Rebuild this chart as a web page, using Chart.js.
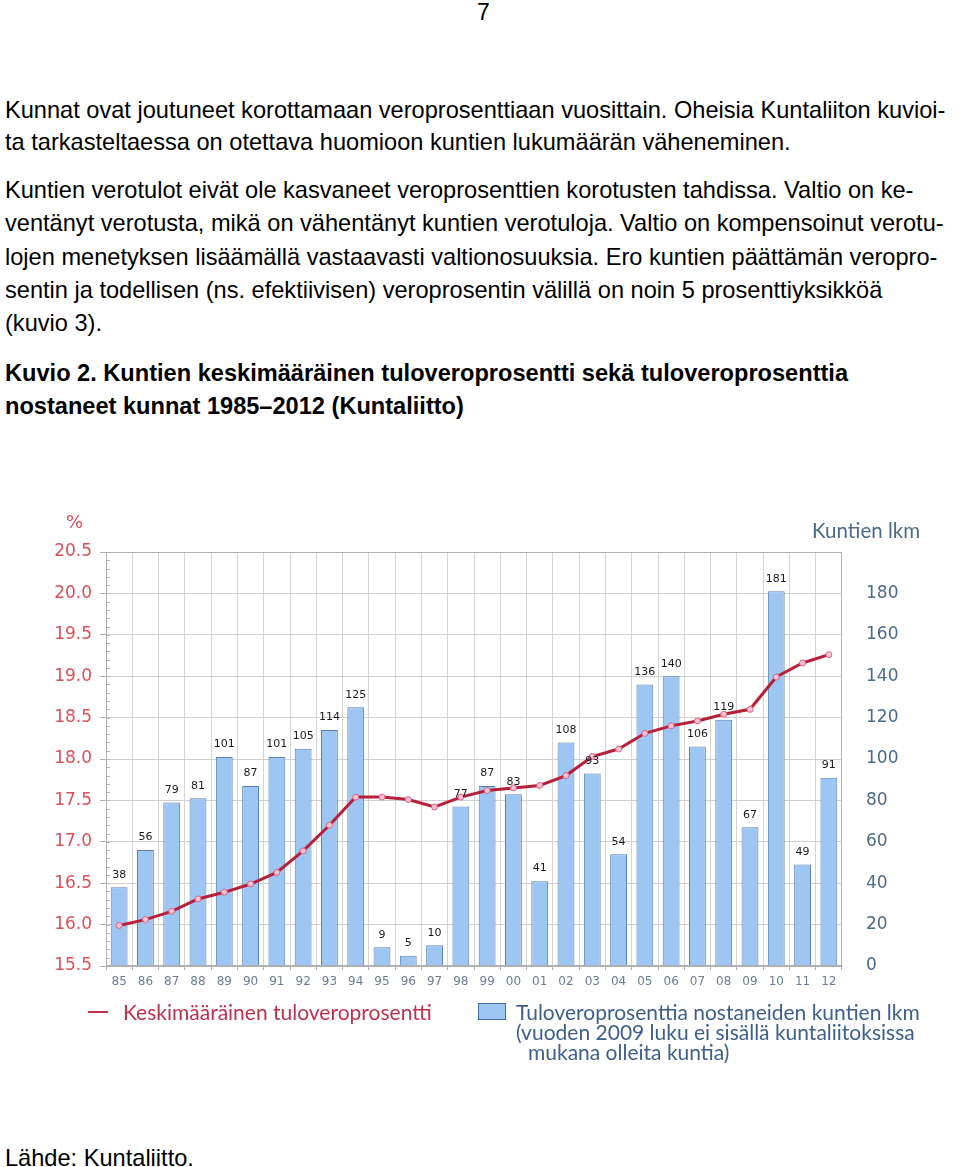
<!DOCTYPE html>
<html>
<head>
<meta charset="utf-8">
<script src="https://cdn.jsdelivr.net/npm/chart.js@4.4.0/dist/chart.umd.min.js"></script>
<style>
    body { margin: 0; width: 960px; height: 1167px; background: #fff; position: relative; overflow: hidden; font-family: "Liberation Sans", Arial, sans-serif; color: #000; }
    .ln { position: absolute; left: 5px; font-size: 23.6px; line-height: 26px; white-space: nowrap; }
    .b { font-weight: bold; }
    #chartBox { position: absolute; left: 0; top: 470px; width: 960px; height: 600px; }
    .ov { position: absolute; white-space: nowrap; }
    .leg { font-family: Lato, "Open Sans", sans-serif; font-size: 21px; line-height: 22px; }
</style>
</head>
<body>
<div class="ov" style="left:477px;top:-1px;font-size:23px;">7</div>

<div class="ln" style="top:97px">Kunnat ovat joutuneet korottamaan veroprosenttiaan vuosittain. Oheisia Kuntaliiton kuvioi-</div>
<div class="ln" style="top:129px">ta tarkasteltaessa on otettava huomioon kuntien lukumäärän väheneminen.</div>
<div class="ln" style="top:177px">Kuntien verotulot eivät ole kasvaneet veroprosenttien korotusten tahdissa. Valtio on ke-</div>
<div class="ln" style="top:210px">ventänyt verotusta, mikä on vähentänyt kuntien verotuloja. Valtio on kompensoinut verotu-</div>
<div class="ln" style="top:244px">lojen menetyksen lisäämällä vastaavasti valtionosuuksia. Ero kuntien päättämän veropro-</div>
<div class="ln" style="top:277px">sentin ja todellisen (ns. efektiivisen) veroprosentin välillä on noin 5 prosenttiyksikköä</div>
<div class="ln" style="top:310px">(kuvio 3).</div>
<div class="ln b" style="top:360px">Kuvio 2. Kuntien keskimääräinen tuloveroprosentti sekä tuloveroprosenttia</div>
<div class="ln b" style="top:393px">nostaneet kunnat 1985–2012 (Kuntaliitto)</div>

<div id="chartBox"><canvas id="taxChart"></canvas></div>

<div class="ov" style="left:66px;top:511px;font-family:'DejaVu Sans';font-size:18px;color:#dc5058;">%</div>
<div class="ov" style="left:812px;top:518px;font-family:Lato,sans-serif;font-size:20.5px;color:#4d6a88;">Kuntien lkm</div>

<div class="ov" style="left:88px;top:1011px;width:20px;height:2px;background:#c0304a;"></div>
<div class="ov leg" style="left:123px;top:1001px;color:#c0304a;">Keskimääräinen tuloveroprosentti</div>
<div class="ov" style="left:478px;top:1003px;width:26px;height:15px;background:#9dc6f2;border:1px solid #3b6fb0;"></div>
<div class="ov leg" style="left:516px;top:1001px;color:#3d5f8a;">Tuloveroprosenttia nostaneiden kuntien lkm</div>
<div class="ov leg" style="left:516px;top:1021px;color:#3d5f8a;">(vuoden 2009 luku ei sisällä kuntaliitoksissa</div>
<div class="ov leg" style="left:528px;top:1041px;color:#3d5f8a;">mukana olleita kuntia)</div>

<p class="ln" style="top:1145px;margin:0;">Lähde: Kuntaliitto.</p>

<script>
// Chart data
const years = ['85', '86', '87', '88', '89', '90', '91', '92', '93', '94', '95', '96', '97', '98',
    '99', '00', '01', '02', '03', '04', '05', '06', '07', '08', '09', '10', '11', '12'];
const avgTaxRate = [15.99, 16.06, 16.16, 16.31, 16.39, 16.49, 16.63, 16.89, 17.20, 17.54, 17.54, 17.51, 17.42, 17.54,
    17.62, 17.65, 17.68, 17.80, 18.03, 18.12, 18.31, 18.40, 18.46, 18.54, 18.60, 18.99, 19.16, 19.26];
const raisedCount = [38, 56, 79, 81, 101, 87, 101, 105, 114, 125, 9, 5, 10, 77,
    87, 83, 41, 108, 93, 54, 136, 140, 106, 119, 67, 181, 49, 91];
const leftTicks = [15.5, 16.0, 16.5, 17.0, 17.5, 18.0, 18.5, 19.0, 19.5, 20.0, 20.5];
const rightTicks = [0, 20, 40, 60, 80, 100, 120, 140, 160, 180];

// Value labels above the bars + frame + minor ticks
const extrasPlugin = {
    id: 'extras',
    beforeDatasetsDraw(chart) {
        const ctx = chart.ctx;
        const a = chart.chartArea;
        const y = chart.scales.y;
        ctx.save();
        ctx.strokeStyle = '#b8b8b8';
        ctx.lineWidth = 1;
        ctx.beginPath();
        for (let v = 15.6; v < 20.5; v += 0.1) {
            const py = Math.round(y.getPixelForValue(v)) + 0.5;
            ctx.moveTo(a.left, py);
            ctx.lineTo(a.left + 4, py);
        }
        ctx.stroke();
        ctx.restore();
    },
    afterDatasetsDraw(chart) {
        const ctx = chart.ctx;
        const a = chart.chartArea;
        ctx.save();
        ctx.strokeStyle = '#b0b0b0';
        ctx.lineWidth = 1;
        ctx.strokeRect(a.left + 0.5, a.top + 0.5, a.right - a.left - 1, a.bottom - a.top - 1);
        const meta = chart.getDatasetMeta(1);
        ctx.fillStyle = '#1a1a1a';
        ctx.font = '11px "DejaVu Sans"';
        ctx.textAlign = 'center';
        ctx.textBaseline = 'bottom';
        meta.data.forEach((bar, i) => {
            ctx.fillText(raisedCount[i], bar.x, bar.y - 7);
        });
        ctx.restore();
    }
};

function initChart() {
    const ctx = document.getElementById('taxChart').getContext('2d');
    new Chart(ctx, {
        data: {
            labels: years,
            datasets: [{
                type: 'line',
                label: 'Keskimääräinen tuloveroprosentti',
                data: avgTaxRate,
                yAxisID: 'y',
                borderColor: '#b8203a',
                borderWidth: 3,
                pointRadius: 3,
                pointBackgroundColor: '#f6c4d4',
                pointBorderColor: '#e0607e',
                pointBorderWidth: 1,
                tension: 0,
                order: 0
            }, {
                type: 'bar',
                label: 'Tuloveroprosenttia nostaneiden kuntien lkm',
                data: raisedCount,
                yAxisID: 'y2',
                backgroundColor: '#9dc6f2',
                borderColor: '#5a82b0',
                borderWidth: 1,
                barPercentage: 0.64,
                categoryPercentage: 1,
                order: 1
            }]
        },
        options: {
            responsive: true,
            maintainAspectRatio: false,
            animation: false,
            layout: { padding: { left: 0, right: 0, top: 82, bottom: 76 } },
            plugins: {
                legend: { display: false },
                tooltip: { enabled: false }
            },
            scales: {
                x: {
                    offset: true,
                    grid: { offset: true, color: '#d4d4d4', tickLength: 4, tickColor: '#b0b0b0' },
                    border: { color: '#b0b0b0' },
                    ticks: {
                        color: '#6b7d96',
                        font: { family: 'DejaVu Sans', size: 12 },
                        maxRotation: 0,
                        autoSkip: false,
                        padding: 5
                    },
                    afterFit: (s) => { s.height = 28; }
                },
                y: {
                    position: 'left',
                    min: 15.5,
                    max: 20.5,
                    afterBuildTicks: (s) => { s.ticks = leftTicks.map(v => ({ value: v })); },
                    grid: { color: '#d0d0d0', tickLength: 6, tickColor: '#b0b0b0' },
                    border: { color: '#b0b0b0' },
                    ticks: {
                        color: '#dc5058',
                        font: { family: 'DejaVu Sans', size: 17 },
                        padding: 8,
                        callback: (v) => Number(v).toFixed(1)
                    },
                    afterFit: (s) => { s.width = 106; }
                },
                y2: {
                    position: 'right',
                    min: 0,
                    max: 200,
                    afterBuildTicks: (s) => { s.ticks = rightTicks.map(v => ({ value: v })); },
                    grid: { display: false },
                    border: { display: false },
                    ticks: {
                        color: '#4d6a88',
                        font: { family: 'DejaVu Sans', size: 17 },
                        padding: 16
                    },
                    afterFit: (s) => { s.width = 118; }
                }
            }
        },
        plugins: [extrasPlugin]
    });
}

document.addEventListener('DOMContentLoaded', initChart);
</script>
</body>
</html>
